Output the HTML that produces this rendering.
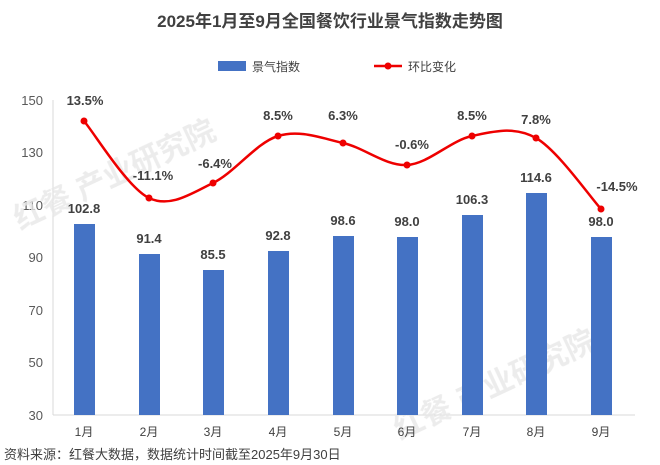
<!DOCTYPE html>
<html><head><meta charset="utf-8"><style>
body{margin:0;background:#fff;}
svg{display:block;font-family:"Liberation Sans","Noto Sans CJK SC",sans-serif;}
</style></head><body>
<svg width="660" height="465" viewBox="0 0 660 465">
<text x="330" y="27" text-anchor="middle" font-size="17" font-weight="bold" fill="#404040">2025年1月至9月全国餐饮行业景气指数走势图</text>
<rect x="218" y="61" width="28" height="10" fill="#4472c4"/>
<text x="252" y="71" font-size="12" fill="#404040">景气指数</text>
<line x1="374" y1="66" x2="402" y2="66" stroke="#e00" stroke-width="2.5"/>
<circle cx="388" cy="66" r="3.5" fill="#e00"/>
<text x="408" y="71" font-size="12" fill="#404040">环比变化</text>
<g font-size="13" fill="#595959" text-anchor="end">
<text x="43" y="105">150</text><text x="43" y="157">130</text><text x="43" y="210">110</text>
<text x="43" y="262">90</text><text x="43" y="315">70</text><text x="43" y="367">50</text><text x="43" y="420">30</text>
</g>
<line x1="53" y1="100" x2="53" y2="415" stroke="#d9d9d9"/>
<line x1="53" y1="415" x2="635" y2="415" stroke="#d9d9d9"/>
<g fill="#e8e8e8" font-size="30" font-weight="bold" opacity="0.8">
<text transform="translate(20,230) rotate(-25)">红餐 产业研究院</text>
<text transform="translate(400,440) rotate(-25)">红餐 产业研究院</text>
</g>
<g fill="#4472c4">
<rect x="74" y="224" width="21" height="191"/>
<rect x="139" y="254" width="21" height="161"/>
<rect x="203" y="270" width="21" height="145"/>
<rect x="268" y="251" width="21" height="164"/>
<rect x="333" y="236" width="21" height="179"/>
<rect x="397" y="237" width="21" height="178"/>
<rect x="462" y="215" width="21" height="200"/>
<rect x="526" y="193" width="21" height="222"/>
<rect x="591" y="237" width="21" height="178"/>
</g>
<g font-size="13" fill="#404040" text-anchor="middle" font-weight="bold">
<text x="84" y="213">102.8</text><text x="149" y="243">91.4</text><text x="213" y="259">85.5</text>
<text x="278" y="240">92.8</text><text x="343" y="225">98.6</text><text x="407" y="226">98.0</text>
<text x="472" y="204">106.3</text><text x="536" y="182">114.6</text><text x="601" y="226">98.0</text>
</g>
<path d="M84,121 C94.8,133.8 127.5,187.7 149,198 C170.5,208.3 191.5,193.3 213,183 C234.5,172.7 256.3,142.7 278,136 C299.7,129.3 321.5,138.2 343,143 C364.5,147.8 385.5,166.2 407,165 C428.5,163.8 450.5,140.5 472,136 C493.5,131.5 514.5,125.8 536,138 C557.5,150.2 590.2,197.2 601,209" fill="none" stroke="#e00" stroke-width="2.5"/>
<g fill="#e00">
<circle cx="84" cy="121" r="3.5"/><circle cx="149" cy="198" r="3.5"/><circle cx="213" cy="183" r="3.5"/>
<circle cx="278" cy="136" r="3.5"/><circle cx="343" cy="143" r="3.5"/><circle cx="407" cy="165" r="3.5"/>
<circle cx="472" cy="136" r="3.5"/><circle cx="536" cy="138" r="3.5"/><circle cx="601" cy="209" r="3.5"/>
</g>
<g font-size="13" fill="#404040" text-anchor="middle" font-weight="bold">
<text x="85" y="105">13.5%</text><text x="153" y="180">-11.1%</text><text x="215" y="168">-6.4%</text>
<text x="278" y="120">8.5%</text><text x="343" y="120">6.3%</text><text x="412" y="149">-0.6%</text>
<text x="472" y="120">8.5%</text><text x="536" y="124">7.8%</text><text x="617" y="191">-14.5%</text>
</g>
<g font-size="12" fill="#404040" text-anchor="middle">
<text x="84" y="436">1月</text><text x="149" y="436">2月</text><text x="213" y="436">3月</text>
<text x="278" y="436">4月</text><text x="343" y="436">5月</text><text x="407" y="436">6月</text>
<text x="472" y="436">7月</text><text x="536" y="436">8月</text><text x="601" y="436">9月</text>
</g>
<text x="4" y="459" font-size="13" fill="#404040">资料来源：红餐大数据，数据统计时间截至2025年9月30日</text>
</svg>
</body></html>
